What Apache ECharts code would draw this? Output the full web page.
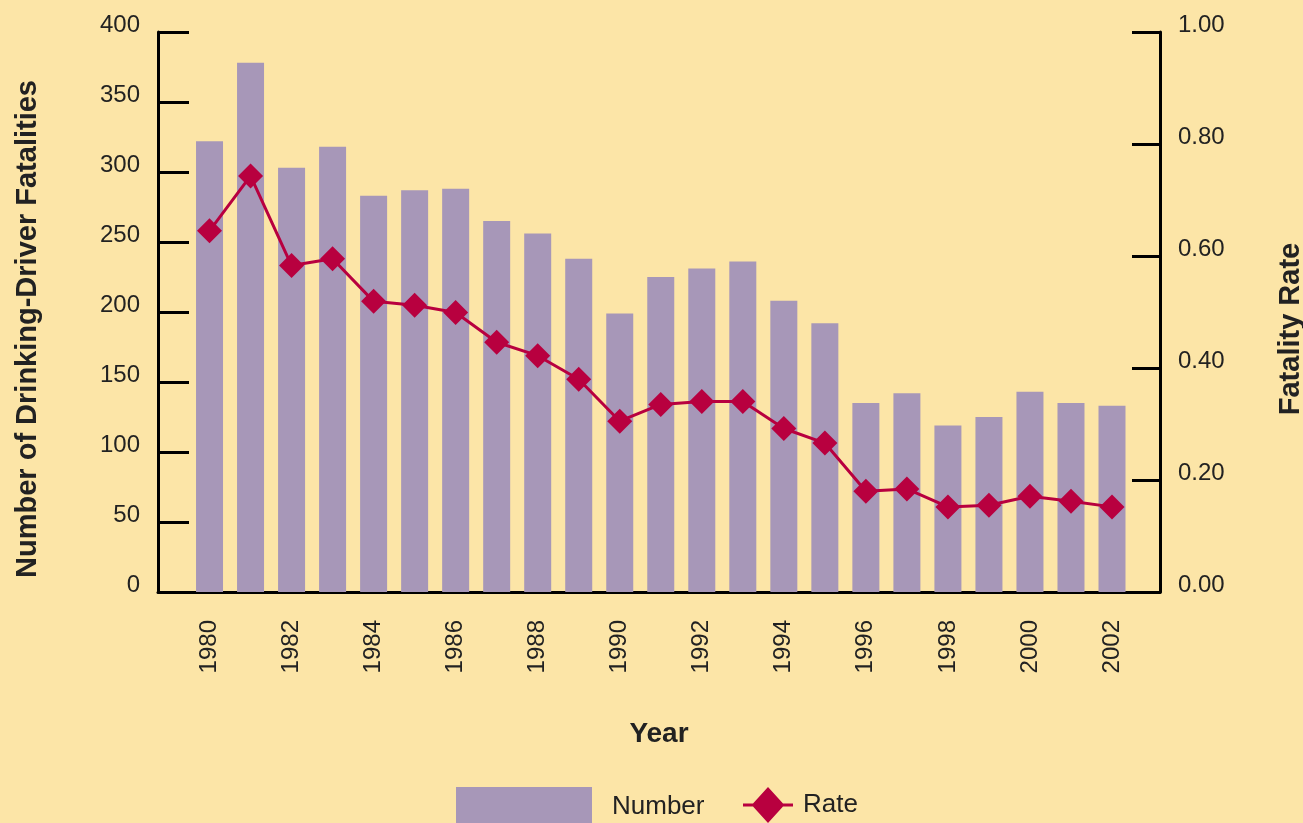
<!DOCTYPE html>
<html>
<head>
<meta charset="utf-8">
<script src="https://cdn.jsdelivr.net/npm/echarts@6/dist/echarts.min.js"></script>
<style>
html,body{margin:0;padding:0;background:#FCE5A7;}
#c{width:1303px;height:823px;}
</style>
</head>
<body>
<div id="c"></div>
<script>
const years = [1980,1981,1982,1983,1984,1985,1986,1987,1988,1989,1990,1991,1992,1993,1994,1995,1996,1997,1998,1999,2000,2001,2002];
const numbers = [322,378,303,318,283,287,288,265,256,238,199,225,231,236,208,192,135,142,119,125,143,135,133];
const rates = [0.645,0.743,0.583,0.595,0.519,0.512,0.499,0.446,0.422,0.380,0.305,0.335,0.340,0.340,0.292,0.266,0.180,0.184,0.152,0.155,0.171,0.162,0.152];
const yearLabels = [1980,1982,1984,1986,1988,1990,1992,1994,1996,1998,2000,2002];

const font = 'Liberation Sans, Arial, sans-serif';
const txt = '#222222';
const rateIcon = 'path://M0,16.5L10,16.5L25,0L40,16.5L50,16.5L50,19.5L40,19.5L25,36L10,19.5L0,19.5Z';
const chart = echarts.init(document.getElementById('c'));
chart.setOption({
  backgroundColor: '#FCE5A7',
  animation: false,
  textStyle: {fontFamily: font},
  grid: {left: 158, right: 143, top: 32, bottom: 231, outerBoundsMode: 'none', containLabel: false},
  legend: [
    {data: ['Number'], left: 456, top: 787, padding: 0, itemWidth: 136, itemHeight: 40, icon: 'rect',
     textStyle: {fontSize: 26, color: txt, fontFamily: font, padding: [0,0,0,15]}},
    {data: [{name: 'Rate', icon: rateIcon}], left: 743, top: 787, padding: 0, itemWidth: 50, itemHeight: 36,
     textStyle: {fontSize: 26, color: txt, fontFamily: font, padding: [0,0,0,5]}}
  ],
  xAxis: {
    type: 'value', min: 1978.744, max: 2003.17,
    name: 'Year', nameLocation: 'middle', nameGap: 128,
    nameTextStyle: {fontSize: 28, fontWeight: 'bold', color: txt, fontFamily: font},
    axisLine: {show: true, lineStyle: {color: '#000', width: 3}},
    axisTick: {show: false},
    splitLine: {show: false},
    axisLabel: {customValues: yearLabels, rotate: 90, fontSize: 24, color: txt, margin: 28, fontFamily: font,
                formatter: v => String(v)}
  },
  yAxis: [
    {type: 'value', min: 0, max: 400, interval: 50, position: 'left',
     name: 'Number of Drinking-Driver Fatalities', nameLocation: 'middle', nameGap: 116, nameRotate: 90,
     nameTextStyle: {fontSize: 29, fontWeight: 'bold', color: txt, fontFamily: font, padding: [0,34,0,0]},
     axisLine: {show: true, lineStyle: {color: '#000', width: 3}},
     axisTick: {show: true, inside: true, length: 31, lineStyle: {color: '#000', width: 3}},
     splitLine: {show: false},
     axisLabel: {fontSize: 24, color: txt, margin: 18, verticalAlign: 'bottom', lineHeight: 14, fontFamily: font}},
    {type: 'value', min: 0, max: 1, interval: 0.2, position: 'right',
     name: 'Fatality Rate', nameLocation: 'middle', nameGap: 116, nameRotate: 90,
     nameTextStyle: {fontSize: 29, fontWeight: 'bold', color: txt, fontFamily: font, padding: [0,34,0,0]},
     axisLine: {show: true, lineStyle: {color: '#000', width: 3}},
     axisTick: {show: true, inside: true, length: 28, lineStyle: {color: '#000', width: 3}},
     splitLine: {show: false},
     axisLabel: {fontSize: 24, color: txt, margin: 18, verticalAlign: 'bottom', lineHeight: 14, fontFamily: font,
                 formatter: v => v.toFixed(2)}}
  ],
  series: [
    {name: 'Number', type: 'bar', yAxisIndex: 0, barWidth: 27,
     itemStyle: {color: '#A797B8'},
     data: years.map((y, i) => [y, numbers[i]])},
    {name: 'Rate', type: 'line', yAxisIndex: 1, symbol: 'diamond', symbolSize: [25, 25],
     lineStyle: {color: '#B8003F', width: 3}, itemStyle: {color: '#B8003F'},
     data: years.map((y, i) => [y, rates[i]])}
  ]
});
</script>
</body>
</html>
